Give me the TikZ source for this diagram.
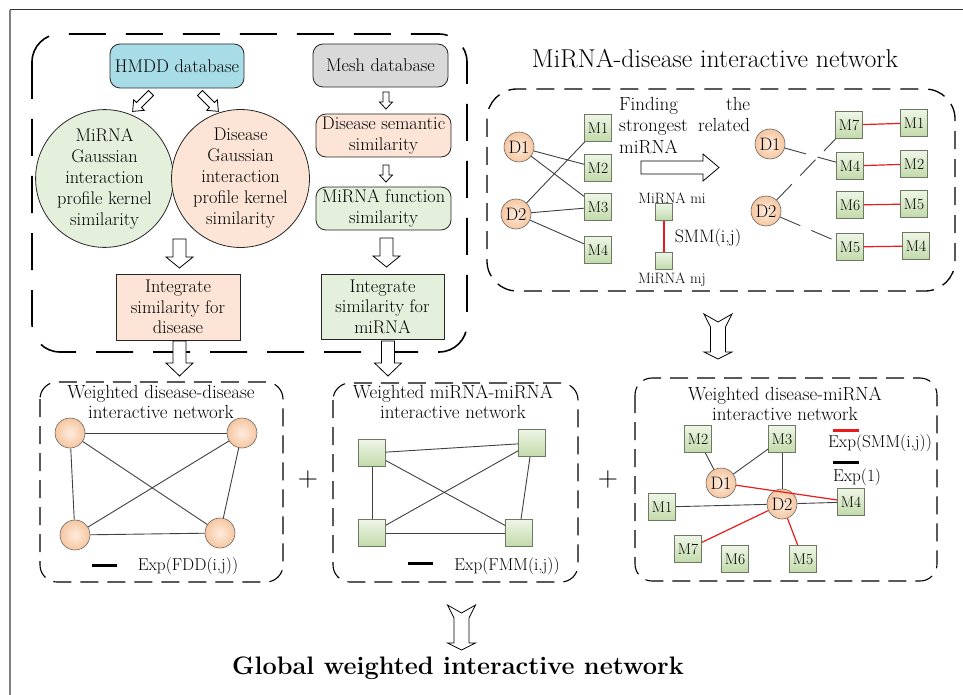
\documentclass[tikz,border=0pt]{standalone}
\usetikzlibrary{shapes.geometric}
\newcommand\setfs[2]{\fontsize{#1}{#2}\selectfont}
\definecolor{hmddblue}{RGB}{168,221,232}
\definecolor{meshgray}{RGB}{217,217,217}
\definecolor{paleGreen}{RGB}{228,240,220}
\definecolor{palePeach}{RGB}{252,229,214}
\definecolor{edgegray}{RGB}{64,64,64}
\definecolor{sqTop}{RGB}{238,245,230}
\definecolor{sqBot}{RGB}{194,219,170}
\definecolor{sqLine}{RGB}{110,120,100}
\definecolor{dotIn}{RGB}{253,236,222}
\definecolor{dotOut}{RGB}{246,198,160}
\definecolor{linkred}{RGB}{232,28,28}
\tikzset{
  roundbox/.style={draw=black!85, rounded corners=10pt, line width=0.8pt, align=center,
    font=\setfs{18.3}{21}, inner sep=1pt, minimum width=135pt, minimum height=43pt},
  flatbox/.style={draw=black!85, line width=0.8pt, align=center,
    font=\setfs{18.3}{20.5}, inner sep=1pt},
  bigdot/.style={circle, draw=black!85, line width=0.8pt, align=center,
    font=\setfs{18.3}{21}, inner sep=0pt, minimum size=122pt},
  dnode/.style={circle, draw=black!60, line width=0.6pt, inner color=dotIn, outer color=dotOut,
    minimum size=30pt, inner sep=0pt, font=\setfs{18}{18}},
  mnode/.style={rectangle, draw=sqLine, line width=0.7pt, top color=sqTop, bottom color=sqBot,
    minimum size=27pt, inner sep=0pt, font=\setfs{15.5}{15.5}},
  link/.style={draw=edgegray, line width=0.9pt},
  redlink/.style={draw=linkred, line width=1.2pt},
  dashlink/.style={draw=edgegray, line width=0.9pt, dash pattern=on 22pt off 12pt},
  bigframe/.style={draw=black, line width=1.6pt, dash pattern=on 37pt off 20pt, rounded corners=28pt},
  netframe/.style={draw=black, line width=1.1pt, dash pattern=on 18pt off 9pt, rounded corners=17pt},
  boxtitle/.style={align=center, font=\setfs{19}{20.5}, inner sep=0pt},
  legendtext/.style={font=\setfs{17.2}{17.2}, inner sep=0pt},
  pics/hollow/.style n args={4}{code={
    \draw[fill=white, draw=black, line width=0.8pt, line join=miter]
      (-#2,0) -- (#2,0) -- (#2,{#1-#4}) -- (#3,{#1-#4}) -- (0,#1)
      -- (-#3,{#1-#4}) -- (-#2,{#1-#4}) -- cycle;}},
  pics/notched/.style={code={
    \draw[fill=white, draw=black, line width=0.8pt, line join=miter]
      (-14,0) -- (0,8) -- (14,0) -- (7.5,13) -- (7.5,38) -- (14,38) -- (0,45)
      -- (-14,38) -- (-7.5,38) -- (-7.5,13) -- cycle;}}
}
\begin{document}
\begin{tikzpicture}[x=1pt, y=-1pt]
\useasboundingbox (0,0) rectangle (963,695);
% page frame
\draw[black!80, line width=1pt] (10,10) -- (963,10);
\draw[black!50, line width=1.8pt] (10,10) -- (10,695);

% ---------- similarity computation block ----------
\draw[bigframe] (32,34) rectangle (467,352);
\node[roundbox, fill=hmddblue, minimum width=134pt, minimum height=44pt] (hmdd) at (177,66) {HMDD database};
\node[roundbox, fill=meshgray] (mesh) at (380.5,65.5) {Mesh database};
\node[bigdot, fill=paleGreen] (mgauss) at (104.5,178.5) {MiRNA\\Gaussian\\interaction\\profile kernel\\similarity};
\node[bigdot, fill=palePeach] (dgauss) at (240.5,178.5) {Disease\\Gaussian\\interaction\\profile kernel\\similarity};
\node[roundbox, fill=palePeach] (dsem) at (383.5,135.5) {Disease semantic\\similarity};
\node[roundbox, fill=paleGreen] (mfun) at (383.5,208.5) {MiRNA function\\similarity};
\node[flatbox, fill=palePeach, minimum width=124pt, minimum height=66pt] (intd) at (178,307) {Integrate\\similarity for\\disease};
\node[flatbox, fill=paleGreen, minimum width=123pt, minimum height=65pt] (intm) at (382.5,306.5) {Integrate\\similarity for\\miRNA};

\pic[rotate=-45] at (151,93) {hollow={26}{3.5}{7.5}{9}};
\pic[rotate=45] at (200,93) {hollow={26}{3.5}{7.5}{9}};
\pic at (386,92) {hollow={17}{3}{6.5}{7}};
\pic at (386,165) {hollow={17}{3}{6.5}{7}};
\pic at (386.5,238) {hollow={29}{6.5}{13.5}{11}};
\pic at (179.5,239) {hollow={29}{6.5}{13.5}{11}};
\pic at (179.5,341) {hollow={35}{6.5}{13.5}{13}};
\pic at (388,341) {hollow={35}{6.5}{13.5}{13}};

% ---------- miRNA-disease interactive network ----------
\node[font=\setfs{25.8}{25.8}, inner sep=0pt] (nettitle) at (715,59) {MiRNA-disease interactive network};
\draw[bigframe, line width=1.3pt, dash pattern=on 18pt off 10pt, rounded corners=30pt] (487,89) rectangle (955,291);

\node[dnode] (a1) at (519,147) {D1};
\node[dnode] (a2) at (516,214) {D2};
\node[mnode] (am1) at (598,128) {M1};
\node[mnode] (am2) at (598,168) {M2};
\node[mnode] (am3) at (598,207) {M3};
\node[mnode] (am4) at (598,250) {M4};
\draw[link] (a1) -- (am2);
\draw[link] (a1) -- (am3);
\draw[link] (a2) -- (am1);
\draw[link] (a2) -- (am3);
\draw[link] (a2) -- (am4);

\node[anchor=north west, text width=131pt, align=left, inner sep=0pt, font=\setfs{19}{21.5}] (findtxt) at (619,97)
  {Finding\hfill the\\strongest\hfill related\\miRNA};
\pic[rotate=90] at (641,167.5) {hollow={78}{6.5}{13.5}{16}};

\node[mnode, minimum size=17pt] (smi) at (664,212) {};
\node[mnode, minimum size=17pt] (smj) at (664,261) {};
\draw[redlink] (smi) -- (smj);
\node[font=\setfs{15}{15}, inner sep=0pt] (lmi) at (672,198) {MiRNA mi};
\node[font=\setfs{15}{15}, inner sep=0pt] (lmj) at (672,280) {MiRNA mj};
\node[font=\setfs{18}{18}, inner sep=0pt] (lsmm) at (708,238) {SMM(i,j)};

\node[dnode] (b1) at (770,144) {D1};
\node[dnode] (b2) at (766,211) {D2};
\node[mnode] (bm7) at (849,125) {M7};
\node[mnode] (bm4) at (850,166) {M4};
\node[mnode] (bm6) at (850,205) {M6};
\node[mnode] (bm5) at (850,247) {M5};
\node[mnode] (cm1) at (914,123) {M1};
\node[mnode] (cm2) at (914,164) {M2};
\node[mnode] (cm5) at (914,204) {M5};
\node[mnode] (cm4) at (916,246) {M4};
\draw[dashlink] (b1) -- (bm4);
\draw[dashlink] (b2) -- (bm7);
\draw[dashlink] (b2) -- (bm5);
\draw[redlink] (bm7) -- (cm1);
\draw[redlink] (bm4) -- (cm2);
\draw[redlink] (bm6) -- (cm5);
\draw[redlink] (bm5) -- (cm4);
\pic at (718,314) {notched};

% ---------- weighted disease-disease network ----------
\draw[netframe] (40,382) rectangle (283,582);
\node[boxtitle] (tdd) at (161,402) {Weighted disease-disease\\interactive network};
\node[dnode] (p1) at (70,433) {};
\node[dnode] (p2) at (242,433) {};
\node[dnode] (p3) at (75,535) {};
\node[dnode] (p4) at (220,533) {};
\draw[link] (p1) -- (p2);
\draw[link] (p1) -- (p3);
\draw[link] (p1) -- (p4);
\draw[link] (p2) -- (p3);
\draw[link] (p2) -- (p4);
\draw[link] (p3) -- (p4);
\coordinate (ka) at (92,565);
\coordinate (kb) at (117,565);
\draw[black, line width=3pt] (ka) -- (kb);
\node[legendtext] (kdd) at (188,566) {Exp(FDD(i,j))};
\node[font=\setfs{28}{28}, inner sep=0pt] (plus1) at (308,480) {+};

% ---------- weighted miRNA-miRNA network ----------
\draw[netframe] (333,383) rectangle (578,582);
\node[boxtitle] (tmm) at (453,402) {Weighted miRNA-miRNA\\interactive network};
\node[mnode] (q1) at (372,453) {};
\node[mnode] (q2) at (532,443) {};
\node[mnode] (q3) at (372,533) {};
\node[mnode] (q4) at (519,533) {};
\draw[link] (q1) -- (q2);
\draw[link] (q1) -- (q3);
\draw[link] (q1) -- (q4);
\draw[link] (q2) -- (q3);
\draw[link] (q2) -- (q4);
\draw[link] (q3) -- (q4);
\coordinate (kc) at (408,563);
\coordinate (kd) at (433,563);
\draw[black, line width=3pt] (kc) -- (kd);
\node[legendtext] (kmm) at (507,566) {Exp(FMM(i,j))};
\node[font=\setfs{28}{28}, inner sep=0pt] (plus2) at (608,480) {+};

% ---------- weighted disease-miRNA network ----------
\draw[netframe] (635,378) rectangle (937,581);
\node[boxtitle] (tdm) at (785,404) {Weighted disease-miRNA\\interactive network};
\node[mnode] (r2) at (698,439) {M2};
\node[mnode] (r3) at (782,439) {M3};
\node[mnode] (r1) at (662,507) {M1};
\node[mnode] (r4) at (851,502) {M4};
\node[mnode] (r7) at (688,549) {M7};
\node[mnode] (r6) at (735,559) {M6};
\node[mnode] (r5) at (803,559) {M5};
\node[dnode] (s1) at (721,483) {D1};
\node[dnode] (s2) at (782,504) {D2};
\draw[link] (r2) -- (s1);
\draw[link] (s1) -- (r3);
\draw[link] (r3) -- (s2);
\draw[link] (r1) -- (s2);
\draw[link] (s2) -- (r4);
\draw[redlink] (s1) -- (r4);
\draw[redlink] (s2) -- (r7);
\draw[redlink] (s2) -- (r5);
\coordinate (ke) at (833,430);
\coordinate (kf) at (859,430);
\draw[linkred, line width=3pt] (ke) -- (kf);
\node[legendtext] (ksmm) at (880,443) {Exp(SMM(i,j))};
\coordinate (kg) at (833,462);
\coordinate (kh) at (859,462);
\draw[black, line width=3pt] (kg) -- (kh);
\node[legendtext] (kone) at (857,477) {Exp(1)};

% ---------- result ----------
\pic at (461.5,605) {notched};
\node[font=\bfseries\setfs{25.3}{25.3}, inner sep=0pt] (global) at (458,668) {Global weighted interactive network};
\end{tikzpicture}
\end{document}
